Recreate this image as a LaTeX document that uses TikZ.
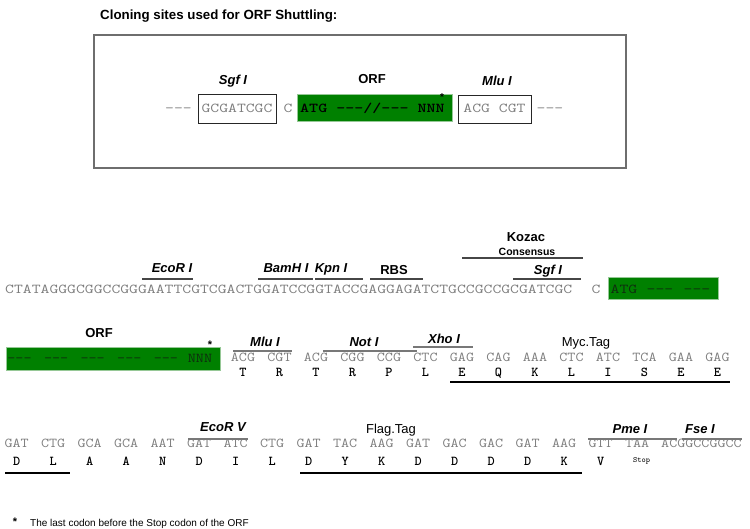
\documentclass[tikz,border=0pt]{standalone}
\usepackage{fontspec}
\newfontfamily\arial{Liberation Sans}
\definecolor{seqgray}{RGB}{125,125,125}
\definecolor{orfgreen}{RGB}{0,128,0}
\definecolor{orfedge}{RGB}{150,200,150}
\definecolor{orftext}{RGB}{15,45,15}
\definecolor{ovgray}{RGB}{120,120,120}
\definecolor{ovdark}{RGB}{70,70,70}
\definecolor{boxgray}{RGB}{110,110,110}
\newcommand\seqfont{\fontsize{13.6}{14}\selectfont\ttfamily}
\newcommand\wideA[1]{\scalebox{1.265}[1]{#1}}
\newcommand\wideB[1]{\scalebox{1.15}[1]{#1}}
\begin{document}
\begin{tikzpicture}[x=1pt,y=-1pt,
  seq/.style={font=\seqfont, text=seqgray, inner sep=0pt, anchor=base},
  aa/.style={font=\seqfont\bfseries, text=black, inner sep=0pt, anchor=base},
  site/.style={font=\arial\bfseries\itshape\fontsize{13}{14}\selectfont, inner sep=0pt, anchor=base},
  lbl/.style={font=\arial\bfseries\fontsize{13}{14}\selectfont, inner sep=0pt, anchor=base},
  tag/.style={font=\arial\fontsize{13}{14}\selectfont, inner sep=0pt, anchor=base},
  orfbox/.style={fill=orfgreen, draw=orfedge, line width=0.8pt},
  sitebox/.style={draw=black!85, line width=0.9pt, fill=white},
  ovl/.style={draw=ovgray, line width=1.2pt},
  ovd/.style={draw=ovdark, line width=1.2pt},
  uline/.style={draw=black, line width=1.3pt},
  starnode/.style={font=\arial\bfseries\fontsize{11}{12}\selectfont, inner sep=0pt}
]
\useasboundingbox (0,0) rectangle (750,528);

% ---------- title and top box ----------
\node[font=\arial\bfseries\fontsize{13.3}{14}\selectfont, inner sep=0pt, anchor=base west] (title) at (100,19.7) {Cloning sites used for ORF Shuttling:};
\draw[draw=boxgray, line width=1.5pt] (94,35) rectangle (626,168);

\node[seq] (tdl) at (178.5,112) {\wideA{---}};
\draw[sitebox] (198,94) rectangle (276,123);
\node[seq] (tsgf) at (237,112) {\wideA{GCGATCGC}};
\node[seq] (tc) at (288,112) {\wideA{C}};
\draw[orfbox] (297,94) rectangle (452,121);
\node[aa, anchor=base west] (torf) at (300,112) {\wideA{ATG ---//--- NNN}};
\node[starnode, font=\arial\bfseries\fontsize{10}{11}\selectfont] (tstar) at (442,97) {*};
\draw[sitebox] (458,95) rectangle (531,123);
\node[seq] (tmlu) at (494.5,112) {\wideA{ACG CGT}};
\node[seq] (tdr) at (550,112) {\wideA{---}};
\node[site] (lsgf) at (233,84.6) {Sgf I};
\node[lbl] (lorf) at (372,83.6) {ORF};
\node[site] (lmlu) at (497,85.6) {Mlu I};

% ---------- line 1 ----------
\node[seq, anchor=base west] (s1) at (5,293) {\wideA{CTATAGGGCGGCCGGGAATTCGTCGACTGGATCCGGTACCGAGGAGATCTGCCGCCGCGATCGC}};
\node[seq] (s1c) at (596,293) {\wideA{C}};
\draw[orfbox] (608,277) rectangle (718,299);
\node[seq, text=orftext] (s1a) at (624,293) {\wideA{ATG}};
\node[seq, text=orftext] (s1b) at (660,293) {\wideA{---}};
\node[seq, text=orftext] (s1d) at (697,293) {\wideA{---}};

\node[site] (lecori) at (172,272.6) {EcoR I};
\draw[ovd] (142,279) -- (193,279);
\node[site] (lbam) at (286,272.6) {BamH I};
\draw[ovd] (258,279) -- (313,279);
\node[site] (lkpn) at (331,272.6) {Kpn I};
\draw[ovd] (315,279) -- (363,279);
\node[lbl] (lrbs) at (394,274.6) {RBS};
\draw[ovd] (370,279) -- (423,279);
\node[lbl] (lkoz) at (526,241.6) {Kozac};
\node[lbl, font=\arial\bfseries\fontsize{10.5}{12}\selectfont] (lcons) at (527,255.8) {Consensus};
\draw[ovd] (462,258) -- (583,258);
\node[site] (lsgf2) at (548,274.6) {Sgf I};
\draw[ovd] (513,279) -- (581,279);

% ---------- line 2 ----------
\node[lbl] (lorf2) at (99,337.6) {ORF};
\draw[orfbox] (6,347) rectangle (220,370);
\foreach \k in {0,...,4} {
  \node[seq, text=orftext] (d2\k) at ({19.5+36.6*\k},362) {\wideB{---}};
}
\node[seq, text=orftext] (nnn2) at (200,362) {\wideB{NNN}};
\node[starnode] (star2) at (210,345) {*};

\foreach \c [count=\i from 0] in {ACG,CGT,ACG,CGG,CCG,CTC,GAG,CAG,AAA,CTC,ATC,TCA,GAA,GAG} {
  \node[seq] (c2\i) at ({243+36.5*\i},361) {\wideB{\c}};
}
\foreach \a [count=\i from 0] in {T,R,T,R,P,L,E,Q,K,L,I,S,E,E} {
  \node[aa] (a2\i) at ({243+36.5*\i},376) {\a};
}
\node[site] (lmlu2) at (265,346.6) {Mlu I};
\draw[ovl] (233,351) -- (292,351);
\node[site] (lnot) at (364,346.6) {Not I};
\draw[ovl] (323,351) -- (417,351);
\node[site] (lxho) at (444,343.6) {Xho I};
\draw[ovl] (413,347) -- (473,347);
\node[tag] (lmyc) at (586,346.6) {Myc.Tag};
\draw[uline] (450,382) -- (730,382);

% ---------- line 3 ----------
\foreach \c [count=\i from 0] in {GAT,CTG,GCA,GCA,AAT,GAT,ATC,CTG,GAT,TAC,AAG,GAT,GAC,GAC,GAT,AAG,GTT,TAA} {
  \node[seq] (c3\i) at ({16.7+36.5*\i},447) {\wideB{\c}};
}
\node[seq, anchor=base west] (c3end) at (661,447) {\wideB{ACGGCCGGCC}};
\foreach \a [count=\i from 0] in {D,L,A,A,N,D,I,L,D,Y,K,D,D,D,D,K,V} {
  \node[aa] (a3\i) at ({16.7+36.5*\i},465) {\a};
}
\node[seq, text=black, font=\fontsize{8}{9}\selectfont\ttfamily] (stop) at (641.5,462) {Stop};
\draw[uline] (5,473) -- (70,473);
\draw[uline] (300,473) -- (582,473);
\node[site] (lecorv) at (223,431) {EcoR V};
\draw[ovl] (188,439) -- (248,439);
\node[tag] (lflag) at (391,433) {Flag.Tag};
\node[site] (lpme) at (630,433.5) {Pme I};
\draw[ovl] (588,439) -- (677,439);
\node[site] (lfse) at (700,433.5) {Fse I};
\draw[ovl] (682,439) -- (742,439);

% ---------- footnote ----------
\node[starnode] (fstar) at (15,522) {*};
\node[font=\arial\fontsize{10}{11}\selectfont, inner sep=0pt, anchor=base west] (fnote) at (30,526.5) {The last codon before the Stop codon of the ORF};
\end{tikzpicture}
\end{document}
